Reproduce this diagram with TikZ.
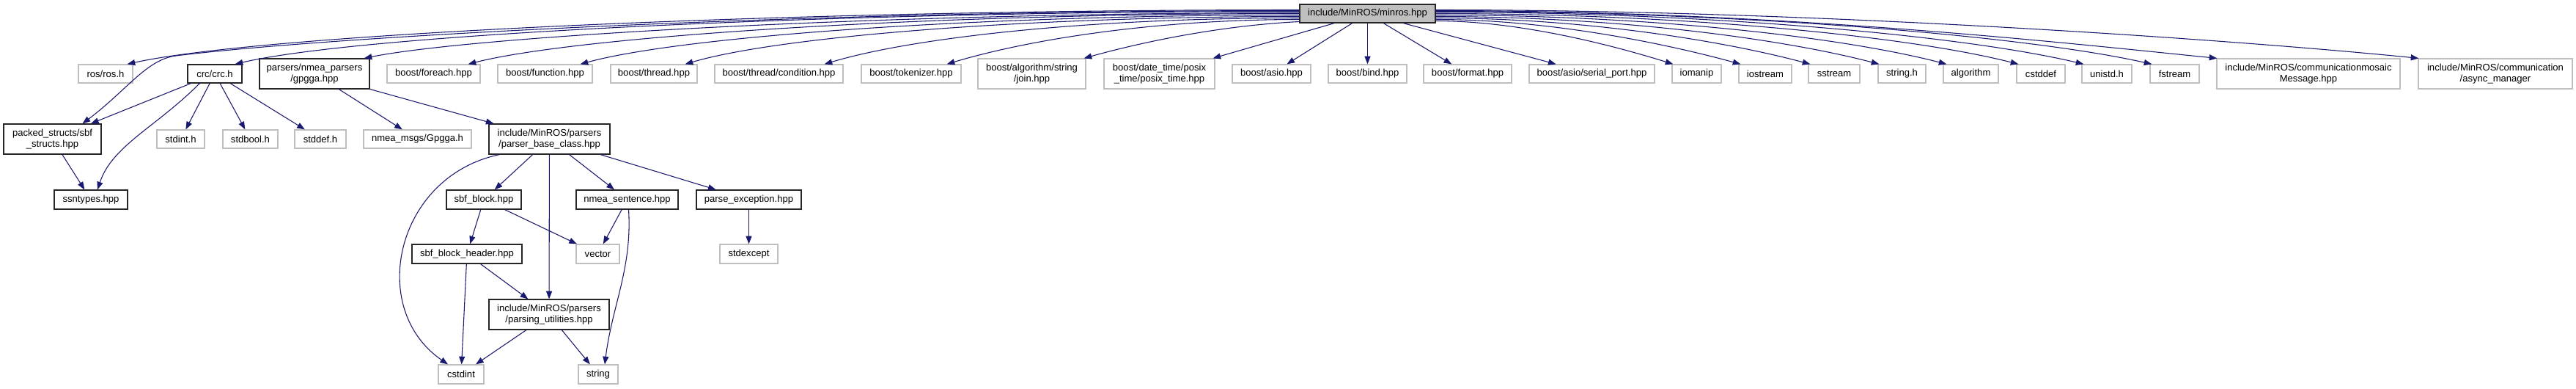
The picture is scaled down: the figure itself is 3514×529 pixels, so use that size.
\documentclass[tikz,border=0pt]{standalone}
\usepackage{fontspec}
\setmainfont{Liberation Sans}
\usetikzlibrary{arrows.meta,calc}
\definecolor{edgeblue}{RGB}{25,25,112}
\definecolor{leafgray}{RGB}{191,191,191}
\definecolor{rootgray}{RGB}{191,191,191}
\newcommand\gnode[7]{%
  \pgfmathsetmacro\gnW{(#5-#3)*0.75}%
  \pgfmathsetmacro\gnH{(#6-#4)*0.75}%
  \node[#2, minimum width=\gnW pt, minimum height=\gnH pt] (#1) at ({(#3+#5)/2},{(#4+#6)/2}) {#7};}
\begin{document}
\begin{tikzpicture}[x=0.75pt,y=-0.75pt,
  base/.style={draw, rectangle, inner sep=0pt, align=center, font=\fontsize{9.8pt}{10.7pt}\selectfont, line width=0.9pt},
  leaf/.style={base, draw=leafgray},
  doc/.style={base, draw=black!85},
  rootn/.style={base, draw=black!85, fill=rootgray},
  edge/.style={draw=edgeblue, line width=0.8pt, -{Triangle[length=8pt,width=6pt]}}]
\fill[white] (0,0) rectangle (3514,529);
\useasboundingbox (0,0) rectangle (3514,529);
% root
\gnode{root}{rootn}{1773}{6}{1958}{31}{include/MinROS/minros.hpp}
% row 1
\gnode{ros}{leaf}{107}{88}{181}{113}{ros/ros.h}
\gnode{crc}{doc}{256}{88}{330}{113}{crc/crc.h}
\gnode{gpgga}{doc}{354}{80}{504}{121}{parsers/nmea\_parsers\\/gpgga.hpp}
\gnode{foreach}{leaf}{528}{88}{655}{113}{boost/foreach.hpp}
\gnode{function}{leaf}{679}{88}{808}{113}{boost/function.hpp}
\gnode{thread}{leaf}{833}{88}{951}{113}{boost/thread.hpp}
\gnode{condition}{leaf}{975}{88}{1150}{113}{boost/thread/condition.hpp}
\gnode{tokenizer}{leaf}{1175}{88}{1311}{113}{boost/tokenizer.hpp}
\gnode{join}{leaf}{1334}{80}{1481}{121}{boost/algorithm/string\\/join.hpp}
\gnode{posix}{leaf}{1506}{80}{1657}{121}{boost/date\_time/posix\\\_time/posix\_time.hpp}
\gnode{asio}{leaf}{1681}{88}{1788}{113}{boost/asio.hpp}
\gnode{bind}{leaf}{1812}{88}{1919}{113}{boost/bind.hpp}
\gnode{format}{leaf}{1942}{88}{2062}{113}{boost/format.hpp}
\gnode{serial}{leaf}{2086}{88}{2257}{113}{boost/asio/serial\_port.hpp}
\gnode{iomanip}{leaf}{2281}{88}{2348}{113}{iomanip}
\gnode{iostream}{leaf}{2372}{88}{2444}{113}{iostream}
\gnode{sstream}{leaf}{2467}{88}{2537}{113}{sstream}
\gnode{stringh}{leaf}{2562}{88}{2627}{113}{string.h}
\gnode{algorithm}{leaf}{2651}{88}{2726}{113}{algorithm}
\gnode{cstddef}{leaf}{2751}{88}{2817}{113}{cstddef}
\gnode{unistd}{leaf}{2840}{88}{2908}{113}{unistd.h}
\gnode{fstream}{leaf}{2933}{88}{3000}{113}{fstream}
\gnode{mosaic}{leaf}{3024}{80}{3274}{121}{include/MinROS/communicationmosaic\\Message.hpp}
\gnode{async}{leaf}{3299}{80}{3509}{121}{include/MinROS/communication\\/async\_manager}
% row 2
\gnode{packed}{doc}{5}{169}{138}{210}{packed\_structs/sbf\\\_structs.hpp}
\gnode{stdint}{leaf}{214}{177}{279}{202}{stdint.h}
\gnode{stdbool}{leaf}{304}{177}{379}{202}{stdbool.h}
\gnode{stddef}{leaf}{402}{177}{472}{202}{stddef.h}
\gnode{gpggah}{leaf}{496}{177}{643}{202}{nmea\_msgs/Gpgga.h}
\gnode{pbc}{doc}{667}{169}{832}{210}{include/MinROS/parsers\\/parser\_base\_class.hpp}
% row 3
\gnode{ssntypes}{doc}{74}{259}{174}{285}{ssntypes.hpp}
\gnode{sbfblock}{doc}{609}{259}{711}{285}{sbf\_block.hpp}
\gnode{nmeasent}{doc}{786}{259}{925}{285}{nmea\_sentence.hpp}
\gnode{parseexc}{doc}{950}{259}{1093}{285}{parse\_exception.hpp}
% row 4
\gnode{sbfheader}{doc}{562}{333}{712}{359}{sbf\_block\_header.hpp}
\gnode{vector}{leaf}{786}{333}{845}{359}{vector}
\gnode{stdexcept}{leaf}{982}{333}{1061}{359}{stdexcept}
% row 5, 6
\gnode{parsing}{doc}{667}{408}{831}{449}{include/MinROS/parsers\\/parsing\_utilities.hpp}
\gnode{cstdint}{leaf}{598}{497}{660}{523}{cstdint}
\gnode{string}{leaf}{789}{497}{843}{523}{string}
\coordinate (pk) at (240,76);
% root edges, left side
\draw[edge] ($(root.west)+(0,-5)$) .. controls +(-720,0) and +(180,-40) .. ($(ros.north east)+(-8,0)$);
\draw[edge] ($(root.west)+(0,-4)$) .. controls +(-700,0) and +(200,-25) .. (pk) .. controls +(-40,5) and +(60,-45) .. ($(packed.north)+(41,0)$);
\draw[edge] ($(root.west)+(0,-3)$) .. controls +(-650,0) and +(170,-40) .. ($(crc.north east)+(-10,0)$);
\draw[edge] ($(root.west)+(0,-1)$) .. controls +(-570,0) and +(150,-30) .. ($(gpgga.north east)+(-8,0)$);
\draw[edge] ($(root.west)+(0,0)$) .. controls +(-510,0) and +(150,-38) .. ($(foreach.north east)+(-17,0)$);
\draw[edge] ($(root.west)+(0,2)$) .. controls +(-440,0) and +(140,-38) .. ($(function.north east)+(-17,0)$);
\draw[edge] ($(root.west)+(0,4)$) .. controls +(-370,0) and +(130,-38) .. ($(thread.north east)+(-17,0)$);
\draw[edge] ($(root.west)+(0,6)$) .. controls +(-290,0) and +(120,-36) .. ($(condition.north east)+(-26,0)$);
\draw[edge] ($(root.west)+(0,8)$) .. controls +(-200,0) and +(110,-33) .. ($(tokenizer.north east)+(-20,0)$);
\draw[edge] ($(root.west)+(0,11)$) .. controls +(-100,5) and +(90,-25) .. ($(join.north east)+(-3,0)$);
\draw[edge] (root) -- (posix);
\draw[edge] (root) -- (asio);
\draw[edge] (root) -- (bind);
\draw[edge] (root) -- (format);
\draw[edge] (root) -- (serial);
% root edges, right side
\draw[edge] ($(root.east)+(0,10)$) .. controls +(110,0) and +(-90,-28) .. ($(iomanip.north west)+(2,0)$);
\draw[edge] ($(root.east)+(0,8)$) .. controls +(150,0) and +(-110,-30) .. ($(iostream.north west)+(3,0)$);
\draw[edge] ($(root.east)+(0,6)$) .. controls +(200,0) and +(-120,-32) .. ($(sstream.north west)+(3,0)$);
\draw[edge] ($(root.east)+(0,4)$) .. controls +(250,0) and +(-130,-34) .. ($(stringh.north west)+(2,0)$);
\draw[edge] ($(root.east)+(0,2)$) .. controls +(300,0) and +(-140,-36) .. ($(algorithm.north west)+(5,0)$);
\draw[edge] ($(root.east)+(0,0)$) .. controls +(340,0) and +(-150,-38) .. ($(cstddef.north west)+(3,0)$);
\draw[edge] ($(root.east)+(0,-2)$) .. controls +(380,0) and +(-160,-38) .. ($(unistd.north west)+(3,0)$);
\draw[edge] ($(root.east)+(0,-3)$) .. controls +(420,0) and +(-170,-38) .. ($(fstream.north west)+(3,0)$);
\draw[edge] ($(root.east)+(0,-4)$) .. controls +(470,0) and +(-200,-20) .. ($(mosaic.north west)+(1,0)$);
\draw[edge] ($(root.east)+(0,-5)$) .. controls +(520,0) and +(-250,-25) .. ($(async.north west)+(1,0)$);
% crc edges
\draw[edge] (crc) -- (packed);
\draw[edge] ($(crc.south west)+(17,0)$) .. controls +(-60,60) and +(20,-60) .. ($(ssntypes.north)+(9,0)$);
\draw[edge] (crc) -- (stdint);
\draw[edge] (crc) -- (stdbool);
\draw[edge] (crc) -- (stddef);
\draw[edge] (packed) -- (ssntypes);
% gpgga edges
\draw[edge] (gpgga) -- (gpggah);
\draw[edge] (gpgga) -- (pbc);
% parser base class edges
\draw[edge] ($(pbc.south west)+(15,0)$) .. controls (540,240) and (500,420) .. ($(cstdint.north)+(-18,0)$);
\draw[edge] (pbc) -- (sbfblock);
\draw[edge] (pbc) -- (parsing);
\draw[edge] (pbc) -- (nmeasent);
\draw[edge] (pbc) -- (parseexc);
\draw[edge] (sbfblock) -- (sbfheader);
\draw[edge] (sbfblock) -- (vector);
\draw[edge] (nmeasent) -- (vector);
\draw[edge] ($(nmeasent.south)+(2,0)$) .. controls +(5,80) and +(10,-80) .. ($(string.north)+(9,0)$);
\draw[edge] (parseexc) -- (stdexcept);
\draw[edge] (sbfheader) -- (cstdint);
\draw[edge] (sbfheader) -- (parsing);
\draw[edge] (parsing) -- (cstdint);
\draw[edge] (parsing) -- (string);
\end{tikzpicture}
\end{document}
